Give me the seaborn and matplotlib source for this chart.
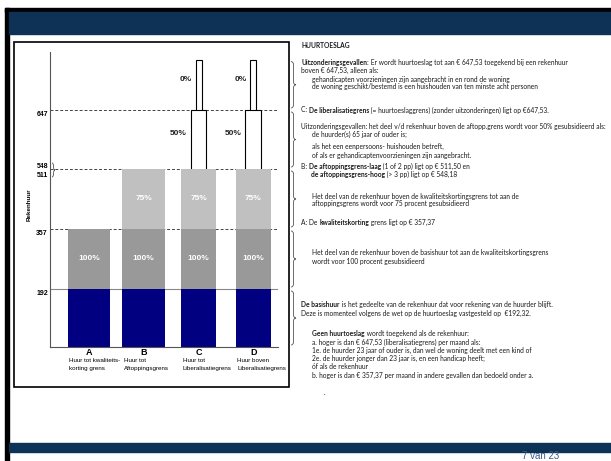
import numpy as np
import seaborn as sns
import matplotlib.pyplot as plt
from matplotlib.patches import Rectangle, PathPatch
from matplotlib.path import Path
from matplotlib.text import Annotation

# Data: huurtoeslag schema (rekenhuur grenzen in euro per maand)
categories = ["A", "B", "C", "D"]
category_labels = ["Huur tot kwaliteits-\nkorting grens", "Huur tot\nAftoppingsgrens",
                   "Huur tot\nLiberalisatiegrens", "Huur boven\nLiberalisatiegrens"]
basishuur = [192, 192, 192, 192]
kwaliteitskorting = [357, 357, 357, 357]
aftoppingsgrens = [np.nan, 511, 511, 511]
liberalisatiegrens = [np.nan, np.nan, 647, 647]
bovenkant = [np.nan, np.nan, 780, 780]
grens_waarden = [192, 357, 511, 647]
grens_labels = ["192", "357", "548\n511", "647"]
subsidie_labels = ["100%", "75%", "50%", "0%"]

W, H = 611, 461
fig = plt.figure(figsize=(W / 100, H / 100), dpi=100)
plt.rcParams['font.family'] = ['Liberation Sans', 'DejaVu Sans']


def fx(x):
    return x / W


def fy(y):
    return 1 - y / H


# slide frame
navy = "#0e3156"
fig.patches.append(Rectangle((fx(5), fy(12)), 1, 4 / H, color="black", transform=fig.transFigure))
fig.patches.append(Rectangle((fx(5), 0), 3.5 / W, fy(8), color="black", transform=fig.transFigure))
fig.patches.append(Rectangle((fx(8.5), fy(34)), 1, 22 / H, color=navy, transform=fig.transFigure))
fig.patches.append(Rectangle((fx(8.5), fy(452)), 1, 9 / H, color=navy, transform=fig.transFigure))
fig.text(fx(522), fy(461), "7 van 23", fontsize=7, color="#3b5b8e", ha="left", va="bottom")

# chart box
fig.patches.append(Rectangle((fx(14), fy(387)), 275 / W, 345 / H, fill=False, edgecolor="black",
                             linewidth=1.2, transform=fig.transFigure))

ax = fig.add_axes([fx(50), fy(347), 228 / W, 295 / H])
ax.set_facecolor("none")

# schematic (not to scale) axis, as in the original
knot_vals = np.array([0, 192, 357, 511, 647, 800])
knot_pos = np.array([0, 58, 118, 178, 237, 295])


def fwd(v):
    return np.interp(v, knot_vals, knot_pos)


def inv(p):
    return np.interp(p, knot_pos, knot_vals)


widths = {"A": 0.78, "B": 0.78, "C": 0.64, "D": 0.64}


def layer(tops, color, edge=None, width=None):
    groups = {}
    for c, t in zip(categories, tops):
        if np.isnan(t):
            continue
        w = width if width else widths[c]
        groups.setdefault(w, []).append((c, t))
    for w, items in groups.items():
        sns.barplot(x=[c for c, _ in items], y=[t for _, t in items], order=categories,
                    width=w, color=color, saturation=1, errorbar=None,
                    edgecolor=edge if edge else color, linewidth=0.8 if edge else 0, ax=ax)


# tallest first, lower layers on top
layer(bovenkant, "white", edge="black", width=0.11)
layer(liberalisatiegrens, "white", edge="black", width=0.29)
layer(aftoppingsgrens, "#c0c0c0")
layer(kwaliteitskorting, "#999999")
layer(basishuur, "#000080")

ax.set_yscale("function", functions=(fwd, inv))
ax.set_ylim(0, 800)
ax.set_xlim(-0.71, 3.45)

ax.axhline(192, color="#888888", lw=0.8, zorder=0.5)
for v in grens_waarden[1:]:
    ax.axhline(v, color="#444444", lw=0.7, dashes=(3, 2), zorder=0.5)

for s in ["top", "right"]:
    ax.spines[s].set_visible(False)
for s in ["left", "bottom"]:
    ax.spines[s].set_color("#555555")
    ax.spines[s].set_linewidth(0.8)
ax.set_xticks([])
ax.set_yticks([])
ax.set_xlabel("")
ax.set_ylabel("")

# y labels for the grenzen
for v, lab in zip(grens_waarden, grens_labels):
    yp = 347 - fwd(v)
    if "\n" in lab:
        fig.text(fx(48), fy(yp + 2), lab, ha="right", va="center", fontsize=5, weight="bold",
                 linespacing=1.35)
    else:
        fig.text(fx(48), fy(yp + 4.5), lab, ha="right", va="center", fontsize=5, weight="bold")
fig.text(fx(29), fy(205), "Rekenhuur", rotation=90, ha="center", va="center", fontsize=4.5,
         weight="bold")


def brace(x, y0, y1, w, lw=0.6, color="#555555"):
    ym = (y0 + y1) / 2
    r = min(3, (y1 - y0) / 4)
    pts = [(x, y0), (x + w / 2, y0), (x + w / 2, y0 + r), (x + w / 2, ym - r),
           (x + w / 2, ym), (x + w, ym), (x + w / 2, ym), (x + w / 2, ym + r),
           (x + w / 2, y1 - r), (x + w / 2, y1), (x, y1)]
    codes = [Path.MOVETO, Path.CURVE3, Path.CURVE3, Path.LINETO, Path.CURVE3, Path.CURVE3,
             Path.CURVE3, Path.CURVE3, Path.LINETO, Path.CURVE3, Path.CURVE3]
    p = Path([(fx(a), fy(b)) for a, b in pts], codes)
    fig.patches.append(PathPatch(p, fill=False, lw=lw, edgecolor=color, transform=fig.transFigure))


brace(52, 163, 177, 3)
bounds = [0] + grens_waarden + [np.nanmax(bovenkant)]
for lo, hi in zip(bounds[:-1], bounds[1:]):
    brace(291, 347 - fwd(hi) + 2, 347 - fwd(lo) - 2, 5)

# percentage labels inside / next to the bars
seg = [(192, 357, 0.5), (357, 511, 0.5), (511, 647, 0.6), (647, 780, 0.6)]
for k, (lo, hi, f) in enumerate(seg):
    yv = inv(fwd(lo) + f * (fwd(hi) - fwd(lo)))
    lab = subsidie_labels[k]
    tops = [kwaliteitskorting, aftoppingsgrens, liberalisatiegrens, bovenkant][k]
    for i, c in enumerate(categories):
        if np.isnan(tops[i]):
            continue
        if k < 2:
            ax.text(i, yv, lab, ha="center", va="center", color="white", fontsize=6, weight="bold")
        elif k == 2:
            ax.text(i - 0.37, yv, lab, ha="center", va="center", color="#222222", fontsize=6,
                    weight="bold")
        else:
            ax.text(i - 0.23, yv, lab, ha="center", va="center", color="#222222", fontsize=6,
                    weight="bold")

xtr = ax.get_xaxis_transform()
for i, (c, lab) in enumerate(zip(categories, category_labels)):
    ax.text(i, -0.018, c, transform=xtr, ha="center", va="center", fontsize=6.5, weight="bold")
    ax.text(i - widths[c] / 2 + 0.03, -0.038, lab, transform=xtr, ha="left", va="top",
            fontsize=4.5, linespacing=1.6)

# text on the right
fs = 4.8
tcol = "#1a1a1a"


def rich_line(x, y, parts):
    prev = None
    for s, bold in parts:
        kw = dict(fontsize=fs, fontweight="bold" if bold else "normal", family="Lato", color=tcol)
        if prev is None:
            prev = fig.text(fx(x), fy(y), s, ha="left", va="center", **kw)
        else:
            ann = Annotation(s, xy=(1, 0), xycoords=prev, ha="left", va="bottom", **kw)
            fig.add_artist(ann)
            prev = ann


lines = [
    (301, 46, [("HUURTOESLAG", True)]),
    (301, 63, [("Uitzonderingsgevallen:", True),
               (" Er wordt huurtoeslag tot aan € 647,53 toegekend bij een rekenhuur", False)]),
    (301, 70, [("boven € 647,53, alleen als:", False)]),
    (312, 79, [("gehandicapten voorzieningen zijn aangebracht in en rond de woning", False)]),
    (312, 87, [("de woning geschikt/bestemd is een huishouden van ten minste acht personen", False)]),
    (301, 110, [("C: ", False), ("De liberalisatiegrens", True),
                (" (= huurtoeslaggrens) (zonder uitzonderingen) ligt op €647,53.", False)]),
    (301, 126, [("Uitzonderingsgevallen: het deel v/d rekenhuur boven de aftopp.grens wordt voor 50% gesubsidieerd als:", False)]),
    (312, 134, [("de huurder(s) 65 jaar of ouder is;", False)]),
    (312, 146, [("als het een eenpersoons- huishouden betreft,", False)]),
    (312, 155, [("of als er gehandicaptenvoorzieningen zijn aangebracht.", False)]),
    (301, 166, [("B: ", False), ("De aftoppingsgrens-laag", True), (" (1 of 2 pp) ligt op € 511,50 en", False)]),
    (311, 175, [("de aftoppingsgrens-hoog", True), (" (> 3 pp) ligt op € 548,18", False)]),
    (312, 196, [("Het deel van de rekenhuur boven de kwaliteitskortingsgrens tot aan de", False)]),
    (312, 203.5, [("aftoppingsgrens wordt voor 75 procent gesubsidieerd", False)]),
    (301, 222, [("A: De ", False), ("kwaliteitskorting", True), (" grens ligt op € 357,37", False)]),
    (312, 253, [("Het deel van de rekenhuur boven de basishuur tot aan de kwaliteitskortingsgrens", False)]),
    (312, 261, [("wordt voor 100 procent gesubsidieerd", False)]),
    (301, 304, [("De basishuur", True),
                (" is het gedeelte van de rekenhuur dat voor rekening van de huurder blijft.", False)]),
    (301, 313, [("Deze is momenteel volgens de wet op de huurtoeslag vastgesteld op  €192,32.", False)]),
    (312, 333, [("Geen huurtoeslag", True), (" wordt toegekend als de rekenhuur:", False)]),
    (312, 342, [("a. hoger is dan € 647,53 (liberalisatiegrens) per maand als:", False)]),
    (312, 350, [("1e. de huurder 23 jaar of ouder is, dan wel de woning deelt met een kind of", False)]),
    (312, 358, [("2e. de huurder jonger dan 23 jaar is, en een handicap heeft;", False)]),
    (312, 366, [("óf als de rekenhuur", False)]),
    (312, 375, [("b. hoger is dan € 357,37 per maand in andere gevallen dan bedoeld onder a.", False)]),
    (324, 392, [(".", False)]),
]
for x, y, parts in lines:
    rich_line(x, y, parts)

plt.savefig("out.png", dpi=100)
